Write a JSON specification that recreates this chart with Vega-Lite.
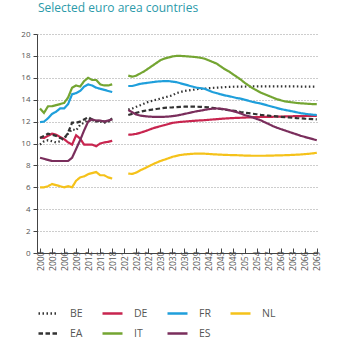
{
  "$schema": "https://vega.github.io/schema/vega-lite/v6.json",
  "autosize": "none",
  "width": 281,
  "height": 219,
  "padding": {"left": 37, "top": 34, "right": 32, "bottom": 97},
  "background": "white",
  "title": {"text": "Selected euro area countries", "anchor": "start", "orient": "top", "frame": "group", "offset": 15, "fontSize": 12, "font": "Open Sans", "fontWeight": "normal", "color": "#2b9aa9", "dx": 1},
  "data": {"values": [
    {"year": 2000, "period": "h", "BE": 9.9, "EA": 10.5, "DE": 10.55, "IT": 13.2, "FR": 11.95, "ES": 8.7, "NL": 6.0},
    {"year": 2001, "period": "h", "BE": 10.2, "EA": 10.7, "DE": 10.5, "IT": 12.8, "FR": 12.0, "ES": 8.6, "NL": 6.0},
    {"year": 2002, "period": "h", "BE": 10.3, "EA": 10.9, "DE": 10.7, "IT": 13.4, "FR": 12.3, "ES": 8.5, "NL": 6.1},
    {"year": 2003, "period": "h", "BE": 10.2, "EA": 10.8, "DE": 10.9, "IT": 13.4, "FR": 12.7, "ES": 8.4, "NL": 6.3},
    {"year": 2004, "period": "h", "BE": 10.1, "EA": 10.7, "DE": 10.8, "IT": 13.5, "FR": 12.9, "ES": 8.4, "NL": 6.2},
    {"year": 2005, "period": "h", "BE": 10.2, "EA": 10.5, "DE": 10.6, "IT": 13.6, "FR": 13.2, "ES": 8.4, "NL": 6.1},
    {"year": 2006, "period": "h", "BE": 10.5, "EA": 10.4, "DE": 10.4, "IT": 13.7, "FR": 13.2, "ES": 8.4, "NL": 6.0},
    {"year": 2007, "period": "h", "BE": 10.9, "EA": 11.0, "DE": 10.1, "IT": 14.2, "FR": 13.6, "ES": 8.4, "NL": 6.1},
    {"year": 2008, "period": "h", "BE": 11.3, "EA": 11.9, "DE": 9.9, "IT": 15.1, "FR": 14.5, "ES": 8.7, "NL": 6.0},
    {"year": 2009, "period": "h", "BE": 11.2, "EA": 11.9, "DE": 10.75, "IT": 15.3, "FR": 14.6, "ES": 9.5, "NL": 6.6},
    {"year": 2010, "period": "h", "BE": 11.7, "EA": 12.0, "DE": 10.45, "IT": 15.2, "FR": 14.8, "ES": 10.3, "NL": 6.9},
    {"year": 2011, "period": "h", "BE": 11.9, "EA": 12.2, "DE": 9.9, "IT": 15.7, "FR": 15.2, "ES": 11.2, "NL": 7.0},
    {"year": 2012, "period": "h", "BE": 12.2, "EA": 12.4, "DE": 9.9, "IT": 16.0, "FR": 15.4, "ES": 12.0, "NL": 7.2},
    {"year": 2013, "period": "h", "BE": 12.1, "EA": 12.2, "DE": 9.9, "IT": 15.8, "FR": 15.3, "ES": 12.2, "NL": 7.3},
    {"year": 2014, "period": "h", "BE": 12.1, "EA": 12.0, "DE": 9.75, "IT": 15.8, "FR": 15.1, "ES": 12.1, "NL": 7.4},
    {"year": 2015, "period": "h", "BE": 12.0, "EA": 12.1, "DE": 10.0, "IT": 15.4, "FR": 15.0, "ES": 12.1, "NL": 7.1},
    {"year": 2016, "period": "h", "BE": 11.9, "EA": 12.0, "DE": 10.1, "IT": 15.3, "FR": 14.9, "ES": 12.0, "NL": 7.1},
    {"year": 2017, "period": "h", "BE": 12.0, "EA": 12.0, "DE": 10.15, "IT": 15.3, "FR": 14.8, "ES": 12.1, "NL": 6.9},
    {"year": 2018, "period": "h", "BE": 12.1, "EA": 12.3, "DE": 10.25, "IT": 15.4, "FR": 14.7, "ES": 12.2, "NL": 6.8},
    {"year": 2022, "period": "p", "BE": 13.1, "EA": 12.6, "DE": 10.8, "IT": 16.2, "FR": 15.25, "ES": 13.05, "NL": 7.25},
    {"year": 2023, "period": "p", "BE": 13.2, "EA": 12.7, "DE": 10.82, "IT": 16.1, "FR": 15.25, "ES": 12.85, "NL": 7.22},
    {"year": 2024, "period": "p", "BE": 13.35, "EA": 12.8, "DE": 10.88, "IT": 16.2, "FR": 15.35, "ES": 12.65, "NL": 7.35},
    {"year": 2025, "period": "p", "BE": 13.5, "EA": 12.9, "DE": 10.98, "IT": 16.4, "FR": 15.45, "ES": 12.55, "NL": 7.55},
    {"year": 2026, "period": "p", "BE": 13.65, "EA": 12.98, "DE": 11.1, "IT": 16.6, "FR": 15.5, "ES": 12.5, "NL": 7.72},
    {"year": 2027, "period": "p", "BE": 13.8, "EA": 13.05, "DE": 11.23, "IT": 16.85, "FR": 15.55, "ES": 12.46, "NL": 7.9},
    {"year": 2028, "period": "p", "BE": 13.9, "EA": 13.1, "DE": 11.37, "IT": 17.1, "FR": 15.6, "ES": 12.44, "NL": 8.08},
    {"year": 2029, "period": "p", "BE": 14.0, "EA": 13.15, "DE": 11.48, "IT": 17.35, "FR": 15.65, "ES": 12.43, "NL": 8.25},
    {"year": 2030, "period": "p", "BE": 14.1, "EA": 13.2, "DE": 11.58, "IT": 17.6, "FR": 15.68, "ES": 12.43, "NL": 8.4},
    {"year": 2031, "period": "p", "BE": 14.2, "EA": 13.25, "DE": 11.68, "IT": 17.75, "FR": 15.7, "ES": 12.44, "NL": 8.52},
    {"year": 2032, "period": "p", "BE": 14.3, "EA": 13.28, "DE": 11.78, "IT": 17.85, "FR": 15.7, "ES": 12.46, "NL": 8.65},
    {"year": 2033, "period": "p", "BE": 14.4, "EA": 13.3, "DE": 11.88, "IT": 17.95, "FR": 15.65, "ES": 12.5, "NL": 8.78},
    {"year": 2034, "period": "p", "BE": 14.6, "EA": 13.33, "DE": 11.93, "IT": 18.0, "FR": 15.6, "ES": 12.55, "NL": 8.87},
    {"year": 2035, "period": "p", "BE": 14.7, "EA": 13.35, "DE": 11.97, "IT": 18.0, "FR": 15.5, "ES": 12.62, "NL": 8.95},
    {"year": 2036, "period": "p", "BE": 14.8, "EA": 13.36, "DE": 12.0, "IT": 17.98, "FR": 15.4, "ES": 12.7, "NL": 9.0},
    {"year": 2037, "period": "p", "BE": 14.85, "EA": 13.37, "DE": 12.03, "IT": 17.95, "FR": 15.3, "ES": 12.78, "NL": 9.03},
    {"year": 2038, "period": "p", "BE": 14.9, "EA": 13.37, "DE": 12.06, "IT": 17.92, "FR": 15.2, "ES": 12.86, "NL": 9.06},
    {"year": 2039, "period": "p", "BE": 14.95, "EA": 13.36, "DE": 12.09, "IT": 17.88, "FR": 15.1, "ES": 12.94, "NL": 9.08},
    {"year": 2040, "period": "p", "BE": 15.0, "EA": 13.35, "DE": 12.11, "IT": 17.83, "FR": 15.05, "ES": 13.0, "NL": 9.08},
    {"year": 2041, "period": "p", "BE": 15.0, "EA": 13.33, "DE": 12.13, "IT": 17.75, "FR": 15.0, "ES": 13.07, "NL": 9.07},
    {"year": 2042, "period": "p", "BE": 15.05, "EA": 13.3, "DE": 12.16, "IT": 17.6, "FR": 14.85, "ES": 13.13, "NL": 9.05},
    {"year": 2043, "period": "p", "BE": 15.08, "EA": 13.25, "DE": 12.19, "IT": 17.45, "FR": 14.7, "ES": 13.18, "NL": 9.02},
    {"year": 2044, "period": "p", "BE": 15.1, "EA": 13.2, "DE": 12.22, "IT": 17.3, "FR": 14.6, "ES": 13.2, "NL": 9.0},
    {"year": 2045, "period": "p", "BE": 15.12, "EA": 13.15, "DE": 12.25, "IT": 17.05, "FR": 14.5, "ES": 13.18, "NL": 8.98},
    {"year": 2046, "period": "p", "BE": 15.15, "EA": 13.1, "DE": 12.28, "IT": 16.8, "FR": 14.4, "ES": 13.13, "NL": 8.96},
    {"year": 2047, "period": "p", "BE": 15.17, "EA": 13.05, "DE": 12.3, "IT": 16.6, "FR": 14.33, "ES": 13.06, "NL": 8.95},
    {"year": 2048, "period": "p", "BE": 15.18, "EA": 13.0, "DE": 12.32, "IT": 16.35, "FR": 14.25, "ES": 12.97, "NL": 8.94},
    {"year": 2049, "period": "p", "BE": 15.2, "EA": 12.95, "DE": 12.34, "IT": 16.1, "FR": 14.15, "ES": 12.87, "NL": 8.93},
    {"year": 2050, "period": "p", "BE": 15.2, "EA": 12.88, "DE": 12.35, "IT": 15.85, "FR": 14.1, "ES": 12.75, "NL": 8.92},
    {"year": 2051, "period": "p", "BE": 15.2, "EA": 12.82, "DE": 12.37, "IT": 15.55, "FR": 14.0, "ES": 12.6, "NL": 8.9},
    {"year": 2052, "period": "p", "BE": 15.21, "EA": 12.77, "DE": 12.38, "IT": 15.3, "FR": 13.9, "ES": 12.5, "NL": 8.89},
    {"year": 2053, "period": "p", "BE": 15.21, "EA": 12.72, "DE": 12.4, "IT": 15.05, "FR": 13.8, "ES": 12.38, "NL": 8.88},
    {"year": 2054, "period": "p", "BE": 15.21, "EA": 12.67, "DE": 12.41, "IT": 14.85, "FR": 13.72, "ES": 12.25, "NL": 8.88},
    {"year": 2055, "period": "p", "BE": 15.22, "EA": 12.62, "DE": 12.42, "IT": 14.65, "FR": 13.65, "ES": 12.12, "NL": 8.88},
    {"year": 2056, "period": "p", "BE": 15.22, "EA": 12.58, "DE": 12.43, "IT": 14.5, "FR": 13.55, "ES": 11.95, "NL": 8.88},
    {"year": 2057, "period": "p", "BE": 15.22, "EA": 12.54, "DE": 12.44, "IT": 14.35, "FR": 13.45, "ES": 11.78, "NL": 8.89},
    {"year": 2058, "period": "p", "BE": 15.22, "EA": 12.5, "DE": 12.44, "IT": 14.2, "FR": 13.35, "ES": 11.6, "NL": 8.9},
    {"year": 2059, "period": "p", "BE": 15.22, "EA": 12.47, "DE": 12.45, "IT": 14.05, "FR": 13.25, "ES": 11.45, "NL": 8.91},
    {"year": 2060, "period": "p", "BE": 15.22, "EA": 12.44, "DE": 12.46, "IT": 13.95, "FR": 13.15, "ES": 11.32, "NL": 8.92},
    {"year": 2061, "period": "p", "BE": 15.22, "EA": 12.41, "DE": 12.47, "IT": 13.85, "FR": 13.07, "ES": 11.2, "NL": 8.93},
    {"year": 2062, "period": "p", "BE": 15.21, "EA": 12.38, "DE": 12.48, "IT": 13.8, "FR": 13.0, "ES": 11.07, "NL": 8.94},
    {"year": 2063, "period": "p", "BE": 15.21, "EA": 12.35, "DE": 12.49, "IT": 13.75, "FR": 12.93, "ES": 10.95, "NL": 8.96},
    {"year": 2064, "period": "p", "BE": 15.21, "EA": 12.32, "DE": 12.5, "IT": 13.7, "FR": 12.85, "ES": 10.83, "NL": 8.98},
    {"year": 2065, "period": "p", "BE": 15.2, "EA": 12.3, "DE": 12.5, "IT": 13.67, "FR": 12.77, "ES": 10.7, "NL": 9.0},
    {"year": 2066, "period": "p", "BE": 15.2, "EA": 12.27, "DE": 12.51, "IT": 13.65, "FR": 12.72, "ES": 10.6, "NL": 9.03},
    {"year": 2067, "period": "p", "BE": 15.2, "EA": 12.25, "DE": 12.52, "IT": 13.62, "FR": 12.67, "ES": 10.5, "NL": 9.06},
    {"year": 2068, "period": "p", "BE": 15.2, "EA": 12.22, "DE": 12.53, "IT": 13.6, "FR": 12.63, "ES": 10.4, "NL": 9.1},
    {"year": 2069, "period": "p", "BE": 15.2, "EA": 12.2, "DE": 12.53, "IT": 13.6, "FR": 12.6, "ES": 10.3, "NL": 9.15}
  ]},
  "transform": [
    {"fold": ["BE", "DE", "FR", "NL", "EA", "IT", "ES"], "as": ["country", "value"]}
  ],
  "mark": {"type": "line", "strokeWidth": 2.2, "clip": true},
  "encoding": {
    "x": {
      "field": "year", "type": "quantitative",
      "scale": {"domain": [1999.25, 2069.3], "nice": false, "zero": false},
      "axis": {
        "title": null,
        "values": [2000, 2003, 2006, 2009, 2012, 2015, 2018, 2021, 2024, 2027, 2030, 2033, 2036, 2039, 2042, 2045, 2048, 2051, 2054, 2057, 2060, 2063, 2066, 2069],
        "format": "d",
        "labelAngle": -90,
        "labelAlign": "right",
        "labelBaseline": "middle",
        "labelPadding": 3,
        "labelFontSize": 8.5,
        "labelFont": "Open Sans",
        "labelColor": "#555555",
        "tickSize": -5,
        "tickColor": "#444444",
        "domainColor": "#444444",
        "grid": false,
        "labelFlush": false,
        "labelOverlap": false
      }
    },
    "y": {
      "field": "value", "type": "quantitative",
      "scale": {"domain": [0, 20], "nice": false},
      "axis": {
        "title": null,
        "values": [0, 2, 4, 6, 8, 10, 12, 14, 16, 18, 20],
        "labelFontSize": 8,
        "labelFont": "Open Sans",
        "labelColor": "#555555",
        "labelPadding": 3,
        "tickSize": 4,
        "tickColor": "#444444",
        "domainColor": "#444444",
        "grid": true,
        "gridColor": "#9a9a9a",
        "gridDash": [1, 2],
        "gridWidth": 1
      }
    },
    "color": {
      "field": "country", "type": "nominal",
      "scale": {
        "domain": ["BE", "DE", "FR", "NL", "EA", "IT", "ES"],
        "range": ["#333333", "#c8254f", "#1f9fdb", "#f5c21a", "#333333", "#74a532", "#7a2e5c"]
      },
      "legend": {
        "title": null,
        "orient": "none",
        "legendX": 0,
        "legendY": 268,
        "direction": "horizontal",
        "columns": 4,
        "columnPadding": 14,
        "rowPadding": 3,
        "symbolType": "stroke",
        "symbolSize": 400,
        "symbolStrokeWidth": 2.5,
        "labelFontSize": 10.5,
        "labelFont": "Open Sans",
        "labelColor": "#555555",
        "labelOffset": 10
      }
    },
    "strokeDash": {
      "field": "country", "type": "nominal",
      "scale": {
        "domain": ["BE", "DE", "FR", "NL", "EA", "IT", "ES"],
        "range": [[1.5, 2.5], [1, 0], [1, 0], [1, 0], [4.5, 2.5], [1, 0], [1, 0]]
      },
      "legend": null
    },
    "detail": {"field": "period", "type": "nominal"}
  },
  "config": {"view": {"stroke": null}}
}
